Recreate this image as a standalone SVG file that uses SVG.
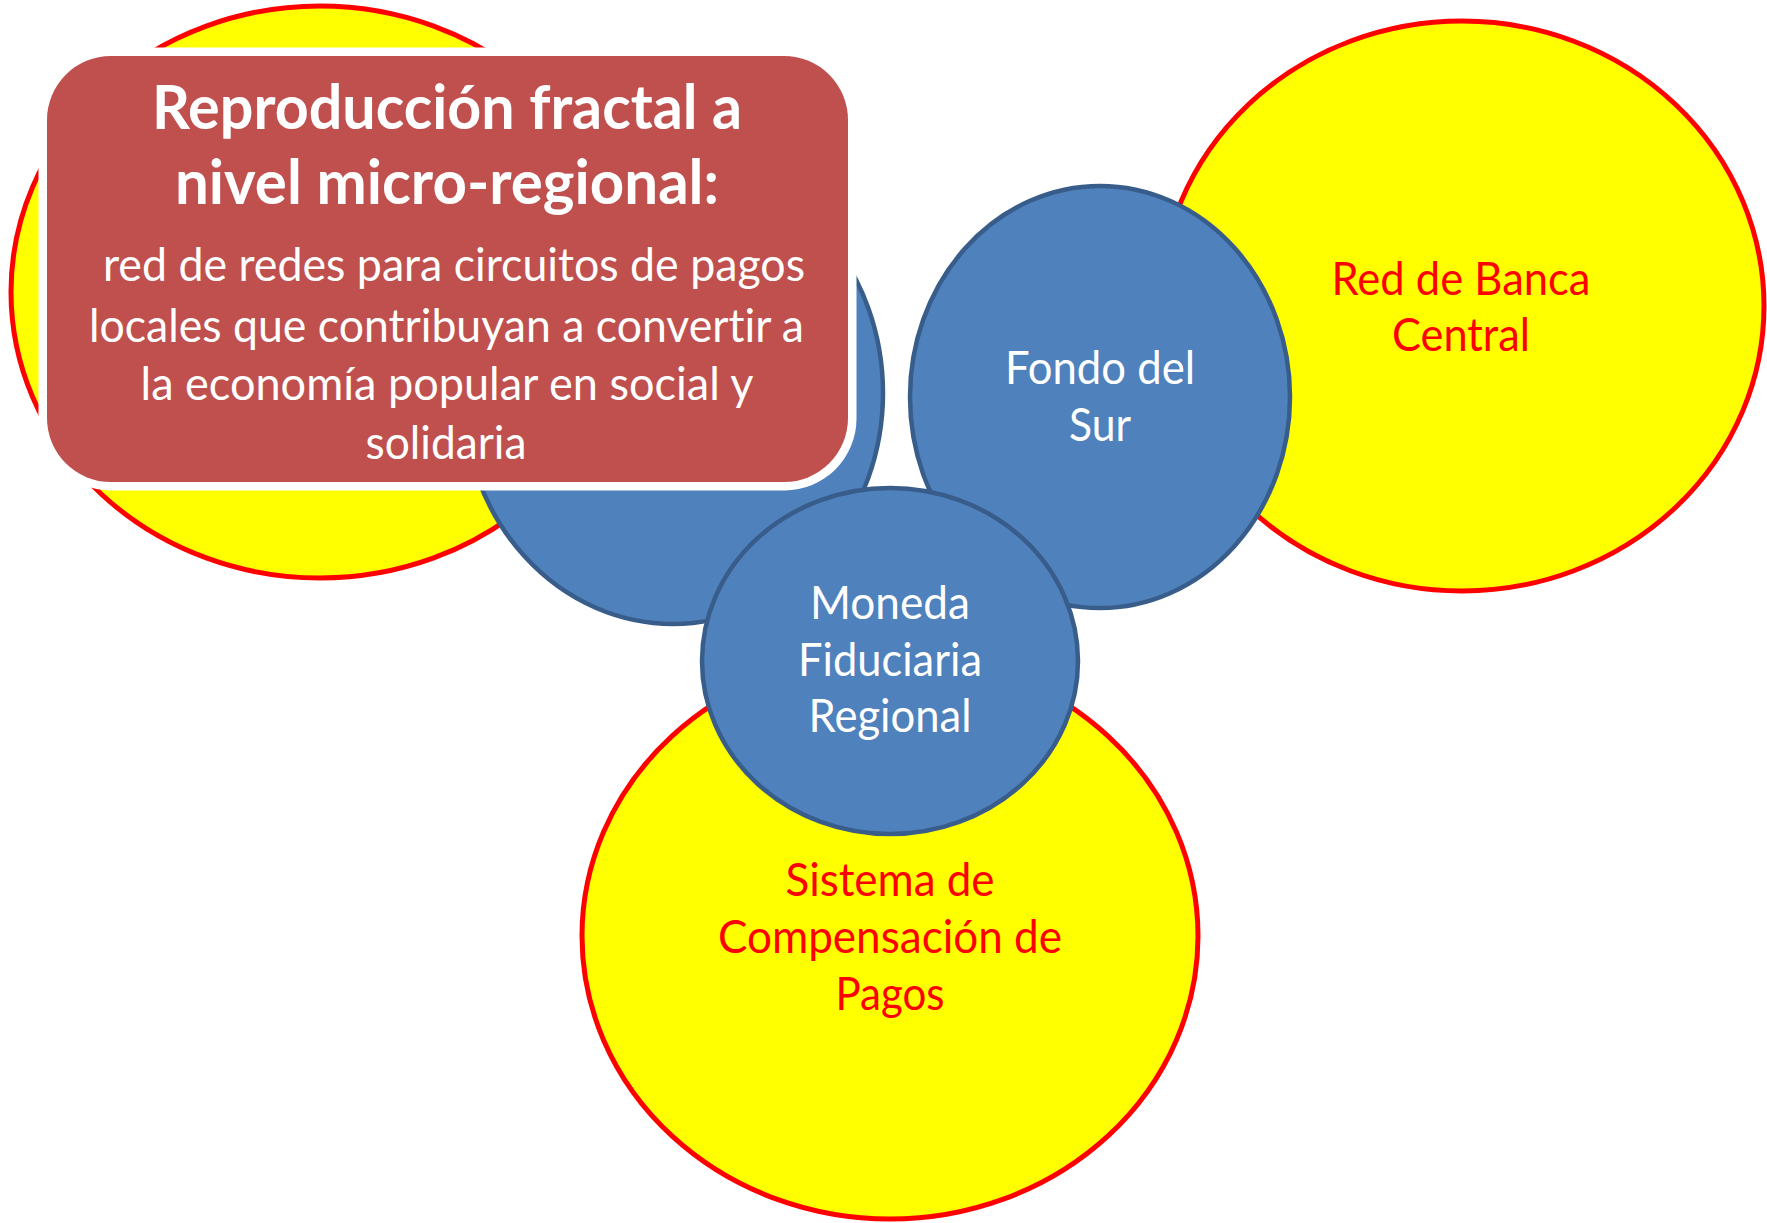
<svg xmlns="http://www.w3.org/2000/svg" width="1767" height="1223" viewBox="0 0 1767 1223">
<style>
.yel{fill:#FFFF00;stroke:#FF0000;stroke-width:5}
.blu{fill:#4F81BD;stroke:#385D8A;stroke-width:4.5}
text{font-variant-ligatures:none}
.t{font-family:Lato,"Open Sans",sans-serif;text-anchor:middle;font-size:47px}
.w{fill:#FFFFFF}
.r{fill:#FF0000}
.title{font-family:Lato,"Open Sans",sans-serif;text-anchor:middle;font-size:61px;font-weight:bold;fill:#FFFFFF}
.body{font-family:Lato,"Open Sans",sans-serif;text-anchor:middle;font-size:46px;fill:#FFFFFF}
</style>
<rect width="1767" height="1223" fill="#FFFFFF"/>
<g id="yellow-left">
<ellipse class="yel" cx="320" cy="292" rx="309" ry="286"/>
</g>
<g id="red-de-banca-central">
<ellipse class="yel" cx="1462" cy="306" rx="302" ry="285"/>
<text class="t r" x="1461" y="295" textLength="259" lengthAdjust="spacingAndGlyphs">Red de Banca</text>
<text class="t r" x="1461" y="351" textLength="138" lengthAdjust="spacingAndGlyphs">Central</text>
</g>
<g id="sistema-de-compensacion">
<ellipse class="yel" cx="890" cy="936" rx="308" ry="283"/>
<text class="t r" x="890" y="896" textLength="209" lengthAdjust="spacingAndGlyphs">Sistema de</text>
<text class="t r" x="890" y="953" textLength="344" lengthAdjust="spacingAndGlyphs">Compensación de</text>
<text class="t r" x="890" y="1010" textLength="109" lengthAdjust="spacingAndGlyphs">Pagos</text>
</g>
<g id="blue-left">
<ellipse class="blu" cx="673" cy="393" rx="210" ry="231"/>
</g>
<g id="fondo-del-sur">
<ellipse class="blu" cx="1100" cy="397" rx="190" ry="211"/>
<text class="t w" x="1100" y="384" textLength="190" lengthAdjust="spacingAndGlyphs">Fondo del</text>
<text class="t w" x="1100" y="441" textLength="62" lengthAdjust="spacingAndGlyphs">Sur</text>
</g>
<g id="moneda-fiduciaria-regional">
<ellipse class="blu" cx="890" cy="661" rx="188" ry="173"/>
<text class="t w" x="890" y="619" textLength="160" lengthAdjust="spacingAndGlyphs">Moneda</text>
<text class="t w" x="890" y="676" textLength="184" lengthAdjust="spacingAndGlyphs">Fiduciaria</text>
<text class="t w" x="890" y="732" textLength="163" lengthAdjust="spacingAndGlyphs">Regional</text>
</g>
<g id="reproduccion-fractal">
<rect x="38.5" y="47.5" width="818" height="443" rx="72" fill="#FFFFFF"/>
<rect x="47" y="56" width="801" height="426" rx="64" fill="#C0504D"/>
<text class="title" x="447" y="129" textLength="590" lengthAdjust="spacingAndGlyphs">Reproducción fractal a</text>
<text class="title" x="447" y="204" textLength="544" lengthAdjust="spacingAndGlyphs">nivel micro-regional:</text>
<text class="body" x="454" y="281" textLength="702" lengthAdjust="spacingAndGlyphs">red de redes para circuitos de pagos</text>
<text class="body" x="446.5" y="342" textLength="715" lengthAdjust="spacingAndGlyphs">locales que contribuyan a convertir a</text>
<text class="body" x="447" y="400" textLength="613" lengthAdjust="spacingAndGlyphs">la economía popular en social y</text>
<text class="body" x="446" y="459" textLength="161" lengthAdjust="spacingAndGlyphs">solidaria</text>
</g>
<g id="connectors"></g>
</svg>
